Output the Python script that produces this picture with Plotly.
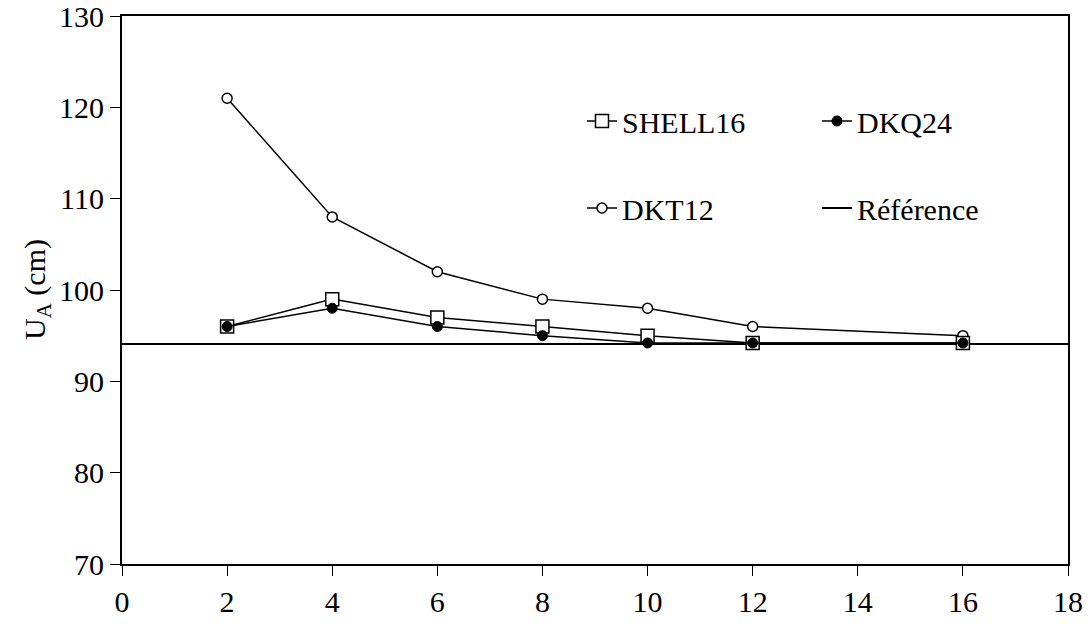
import plotly.graph_objects as go

x_vals = [2, 4, 6, 8, 10, 12, 16]
shell16 = [96, 99, 97, 96, 95, 94.2, 94.2]
dkq24 = [96, 98, 96, 95, 94.2, 94.2, 94.2]
dkt12 = [121, 108, 102, 99, 98, 96, 95]
ref_x = [0, 18]
ref_value = 94.1
x_ticks = [0, 2, 4, 6, 8, 10, 12, 14, 16, 18]
y_ticks = [70, 80, 90, 100, 110, 120, 130]
y_title = "U<sub>A</sub> (cm)"

FONT = "Liberation Serif"

fig = go.Figure()
fig.add_trace(go.Scatter(
    x=ref_x, y=[ref_value] * len(ref_x), mode="lines", name="Référence",
    line=dict(color="black", width=2), legend="legend2", legendrank=2))
fig.add_trace(go.Scatter(
    x=x_vals, y=dkt12, mode="lines+markers", name="DKT12",
    line=dict(color="black", width=1.5),
    marker=dict(symbol="circle", size=10, color="white", line=dict(color="black", width=1.5)),
    legend="legend2", legendrank=1))
fig.add_trace(go.Scatter(
    x=x_vals, y=shell16, mode="lines+markers", name="SHELL16",
    line=dict(color="black", width=1.5),
    marker=dict(symbol="square", size=13, color="white", line=dict(color="black", width=1.5)),
    legend="legend", legendrank=1))
fig.add_trace(go.Scatter(
    x=x_vals, y=dkq24, mode="lines+markers", name="DKQ24",
    line=dict(color="black", width=1.5),
    marker=dict(symbol="circle", size=10, color="black", line=dict(color="black", width=1)),
    legend="legend", legendrank=2))

leg_common = dict(orientation="h", xanchor="left", yanchor="middle",
                  bgcolor="rgba(0,0,0,0)", font=dict(family=FONT, size=30, color="black"),
                  entrywidth=190, entrywidthmode="pixels", traceorder="normal")

axis_common = dict(showgrid=False, zeroline=False, automargin=False,
                   showline=True, linecolor="black", linewidth=2, mirror=True,
                   ticks="outside", ticklen=10, tickcolor="black", tickwidth=1,
                   ticklabeloverflow="allow",
                   tickfont=dict(family=FONT, size=30, color="black"))

fig.update_layout(
    width=1090, height=632,
    margin=dict(l=122, r=22, t=16, b=68),
    paper_bgcolor="white", plot_bgcolor="white",
    font=dict(family=FONT, size=30, color="black"),
    showlegend=True,
    legend=dict(x=(582 - 122) / 946, y=(564 - 121) / 548, **leg_common),
    legend2=dict(x=(582 - 122) / 946, y=(564 - 208) / 548, **leg_common),
    xaxis=dict(range=[0, 18], tickvals=x_ticks, **axis_common),
    yaxis=dict(range=[70, 130], tickvals=y_ticks, ticksuffix="\u00a0\u2009", **axis_common),
    annotations=[dict(text=y_title, textangle=-90, showarrow=False,
                      xref="paper", yref="paper", x=(37 - 122) / 946, y=0.5,
                      xanchor="center", yanchor="middle",
                      font=dict(family=FONT, size=30, color="black"))],
)

fig.write_html("out.html", config={"displayModeBar": False},
               post_script="document.body.style.margin='0';document.body.style.padding='0';")
